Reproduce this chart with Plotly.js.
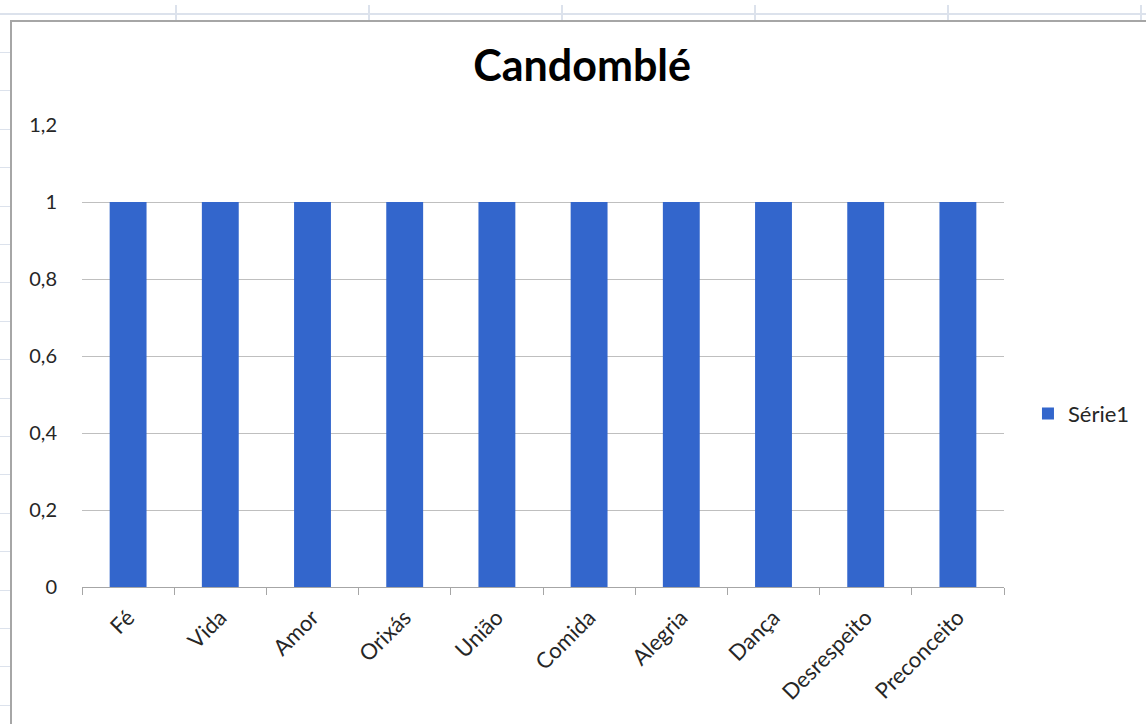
<!DOCTYPE html>
<html>
<head>
<meta charset="utf-8">
<script src="https://cdn.plot.ly/plotly-3.0.1.min.js"></script>
<style>
  html, body { margin: 0; padding: 0; background: #fff; }
  #wrap { position: relative; width: 1146px; height: 724px; overflow: hidden; background: #fff; }
  #chart { position: absolute; left: 0; top: 0; width: 1146px; height: 724px; }
  .deco { position: absolute; pointer-events: none; }
</style>
</head>
<body>
<div id="wrap">
  <div id="chart"></div>
</div>
<script>
const categories = ["Fé", "Vida", "Amor", "Orixás", "União", "Comida", "Alegria", "Dança", "Desrespeito", "Preconceito"];
const serie1 = [1, 1, 1, 1, 1, 1, 1, 1, 1, 1];
const seriesName = "Série1";
const chartTitle = "Candomblé";
const yTickVals = [0, 0.2, 0.4, 0.6, 0.8, 1, 1.2];

const FONT = "Lato, 'Open Sans', sans-serif";

const trace = {
  type: "bar",
  x: categories,
  y: serie1,
  name: seriesName,
  marker: { color: "#3366CC" },
  showlegend: true,
  hoverinfo: "x+y"
};

const layout = {
  width: 1146,
  height: 724,
  paper_bgcolor: "rgba(0,0,0,0)",
  plot_bgcolor: "rgba(0,0,0,0)",
  margin: { l: 82, r: 142, t: 125, b: 137, pad: 0, autoexpand: false },
  separators: ",.",
  bargap: 0.6,
  font: { family: FONT, color: "#262626", size: 20 },
  title: {
    text: "<b>" + chartTitle + "</b>",
    font: { family: FONT, size: 43, color: "#000" },
    x: 0.508, xanchor: "center",
    y: 0.909, yanchor: "middle"
  },
  xaxis: {
    type: "category",
    showgrid: false,
    showline: true,
    linecolor: "#A6A6A6",
    linewidth: 1,
    ticks: "outside",
    tickson: "boundaries",
    ticklen: 7,
    tickcolor: "#A6A6A6",
    tickangle: -45,
    ticklabelstandoff: 8,
    tickfont: { family: FONT, size: 22, color: "#262626" },
    zeroline: false,
    automargin: false
  },
  yaxis: {
    range: [0, 1.2],
    tickvals: yTickVals,
    showgrid: true,
    gridcolor: "#BFBFBF",
    gridwidth: 1,
    zeroline: false,
    showline: false,
    ticks: "",
    ticklabelstandoff: 24,
    tickfont: { family: FONT, size: 20, color: "#262626" },
    automargin: false
  },
  legend: {
    x: 1.026, xanchor: "left",
    y: 0.375, yanchor: "middle",
    font: { family: FONT, size: 22, color: "#262626" },
    itemwidth: 30,
    bgcolor: "rgba(0,0,0,0)"
  }
};

Plotly.newPlot("chart", [trace], layout, { displayModeBar: false, staticPlot: true }).then(() => {
  // spreadsheet / chart frame decoration behind the chart
  const wrap = document.getElementById("wrap");
  function line(l, t, w, h, c) {
    const d = document.createElement("div");
    d.className = "deco";
    d.style.left = l + "px"; d.style.top = t + "px";
    d.style.width = w + "px"; d.style.height = h + "px";
    d.style.background = c;
    wrap.insertBefore(d, wrap.firstChild);
  }
  const sheet = "#DCE2EC";
  line(0, 13, 1146, 2, sheet);
  [175, 368, 561, 754, 947, 1140].forEach(x => line(x, 5, 2, 15, sheet));
  for (let y = 52; y < 724; y += 38.4) line(0, Math.round(y), 10, 1, sheet);
  line(10, 20, 1136, 2, "#A6A6A6");
  line(10, 20, 2, 704, "#A6A6A6");
});
</script>
</body>
</html>
